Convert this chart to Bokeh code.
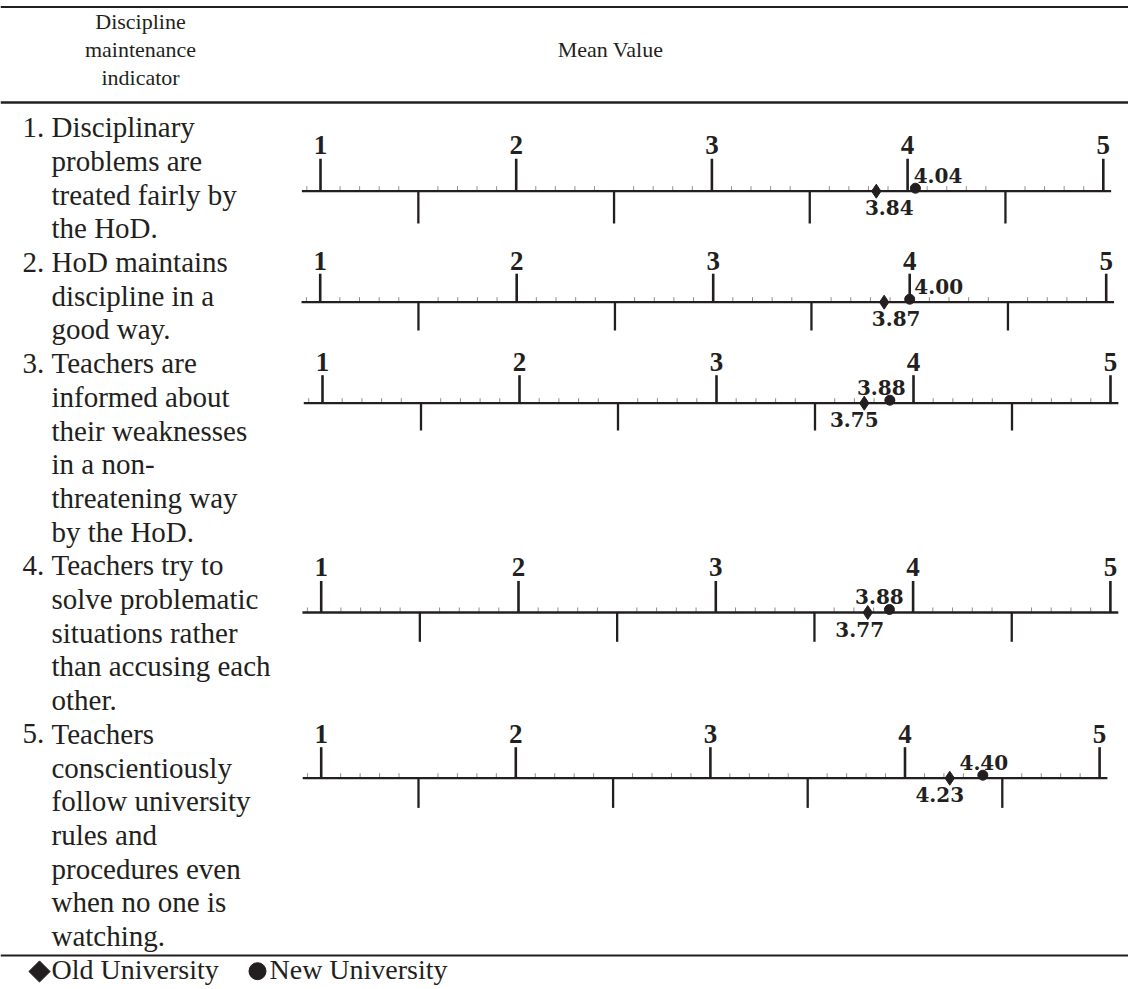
import math
from bokeh.plotting import figure
from bokeh.models import Range1d
from bokeh.embed import file_html
from bokeh.resources import INLINE
from bokeh.core.properties import value

# ---------------- data ----------------
header_indicator = ["Discipline", "maintenance", "indicator"]
header_mean = "Mean Value"
indicator_numbers = ["1.", "2.", "3.", "4.", "5."]
indicator_lines = [
    ["Disciplinary", "problems are", "treated fairly by", "the HoD."],
    ["HoD maintains", "discipline in a", "good way."],
    ["Teachers are", "informed about", "their weaknesses", "in a non-",
     "threatening way", "by the HoD."],
    ["Teachers try to", "solve problematic", "situations rather",
     "than accusing each", "other."],
    ["Teachers", "conscientiously", "follow university", "rules and",
     "procedures even", "when no one is", "watching."],
]
scale_ticks = [1, 2, 3, 4, 5]
scale_labels = ["1", "2", "3", "4", "5"]
half_ticks = [1.5, 2.5, 3.5, 4.5]
old_university = [3.84, 3.87, 3.75, 3.77, 4.23]
new_university = [4.04, 4.00, 3.88, 3.88, 4.40]
old_labels = ["3.84", "3.87", "3.75", "3.77", "4.23"]
new_labels = ["4.04", "4.00", "3.88", "3.88", "4.40"]
legend_labels = ["Old University", "New University"]

# ---------------- layout (pixels) ----------------
W, H = 1128, 985
row_axis_y = [190.7, 301.7, 402.7, 612.0, 777.7]
row_x1 = [320.0, 319.7, 322.0, 320.7, 320.7]
row_unit = [195.7, 196.5, 197.0, 197.3, 194.6]
up_len = [32.5, 28.5, 28.0, 31.5, 31.0]
down_len = [32.3, 28.3, 27.3, 29.3, 29.7]
num_gap = [37.4, 32.4, 32.0, 36.0, 35.0]
old_dx = [13, 12, -10, -8, -10]
new_dx = [22.6, 29, -8.6, -10, 1]

BODY_FS = 29.0
HEAD_FS = 22.0
NUM_FS = 27.0
LEG_FS = 28.0
MID = 0.3375  # baseline offset below the 'middle' anchor (fraction of font size)

INK = "#231f20"
SERIF = value("Liberation Serif")

p = figure(width=W, height=H, output_backend="svg", toolbar_location=None,
           x_range=Range1d(0, W), y_range=Range1d(H, 0),
           min_border=0, outline_line_color=None, background_fill_color="white")
p.xaxis.visible = False
p.yaxis.visible = False
p.grid.visible = False

# table rules
p.segment(x0=[0, 0, 0], y0=[6.5, 102.0, 955.0], x1=[W] * 3, y1=[6.5, 102.0, 955.0],
          line_color=INK, line_width=[2.2, 2.6, 2.0])

# header
head_base = [28.0, 56.5, 84.0]
p.text(x=[140] * 3, y=[b - MID * HEAD_FS for b in head_base],
       text=header_indicator, text_font=SERIF, text_font_size=f"{HEAD_FS}px",
       text_align="center", text_baseline="middle", text_color=INK)
p.text(x=[610], y=[head_base[1] - MID * HEAD_FS], text=[header_mean], text_font=SERIF,
       text_font_size=f"{HEAD_FS}px", text_align="center", text_baseline="middle",
       text_color=INK)

# indicator column
k = 0
nx, ny, nt, lx, ly, lt = [], [], [], [], [], []
for num, lines in zip(indicator_numbers, indicator_lines):
    nx.append(22)
    ny.append(136.5 + 33.7 * k - MID * BODY_FS)
    nt.append(num)
    for line in lines:
        lx.append(51)
        ly.append(136.5 + 33.7 * k - MID * BODY_FS)
        lt.append(line)
        k += 1
p.text(x=nx, y=ny, text=nt, text_font=SERIF, text_font_size=f"{BODY_FS}px",
       text_baseline="middle", text_color=INK)
p.text(x=lx, y=ly, text=lt, text_font=SERIF, text_font_size=f"{BODY_FS}px",
       text_baseline="middle", text_color=INK)

# number lines
minor = [0.93] + [i / 10 for i in range(11, 50) if i % 5 != 0]
for r in range(5):
    name = f"row{r}"
    start = 1 - row_x1[r] / row_unit[r]
    p.extra_x_ranges[name] = Range1d(start, start + W / row_unit[r])
    ay = row_axis_y[r]
    # minor ticks
    p.segment(x0=minor, y0=[ay] * len(minor), x1=minor, y1=[ay - 5] * len(minor),
              line_color="#8f8f8f", line_width=1, x_range_name=name)
    # axis line
    p.segment(x0=[0.905], y0=[ay], x1=[5.04], y1=[ay], line_color=INK,
              line_width=2.3, x_range_name=name)
    # major ticks above
    p.segment(x0=scale_ticks, y0=[ay] * 5, x1=scale_ticks, y1=[ay - up_len[r]] * 5,
              line_color=INK, line_width=2.6, x_range_name=name)
    # half ticks below
    p.segment(x0=half_ticks, y0=[ay] * 4, x1=half_ticks, y1=[ay + down_len[r]] * 4,
              line_color=INK, line_width=2.3, x_range_name=name)
    # scale numbers
    p.text(x=scale_ticks, y=[ay - num_gap[r] - MID * NUM_FS] * 5, text=scale_labels,
           text_font=SERIF, text_font_style="bold", text_font_size=f"{NUM_FS}px",
           text_align="center", text_baseline="middle", text_color=INK,
           x_range_name=name)
    # markers
    p.scatter(x=[old_university[r]], y=[ay], marker="diamond", size=14,
              fill_color=INK, line_color=INK, x_range_name=name)
    p.scatter(x=[new_university[r]], y=[ay - 3], marker="circle", size=10,
              fill_color=INK, line_color=INK, x_range_name=name)
    # value labels
    p.text(x=[old_university[r]], y=[ay + 16.5], text=[old_labels[r]],
           x_offset=old_dx[r], text_font=value("DejaVu Serif"),
           text_font_style="bold", text_font_size="20px", text_align="center",
           text_baseline="middle", text_color=INK, x_range_name=name)
    p.text(x=[new_university[r]], y=[ay - 16], text=[new_labels[r]],
           x_offset=new_dx[r], text_font=value("DejaVu Serif"),
           text_font_style="bold", text_font_size="20px", text_align="center",
           text_baseline="middle", text_color=INK, x_range_name=name)

# legend
p.scatter(x=[39], y=[971], marker="square", angle=math.pi / 4, size=15,
          fill_color=INK, line_color=INK)
p.scatter(x=[257], y=[970.7], marker="circle", size=17,
          fill_color=INK, line_color=INK)
p.text(x=[51, 269], y=[978.3 - MID * LEG_FS] * 2, text=legend_labels, text_font=SERIF,
       text_font_size=f"{LEG_FS}px", text_baseline="middle", text_color=INK)

open("out.html", "w").write(file_html(p, INLINE))
